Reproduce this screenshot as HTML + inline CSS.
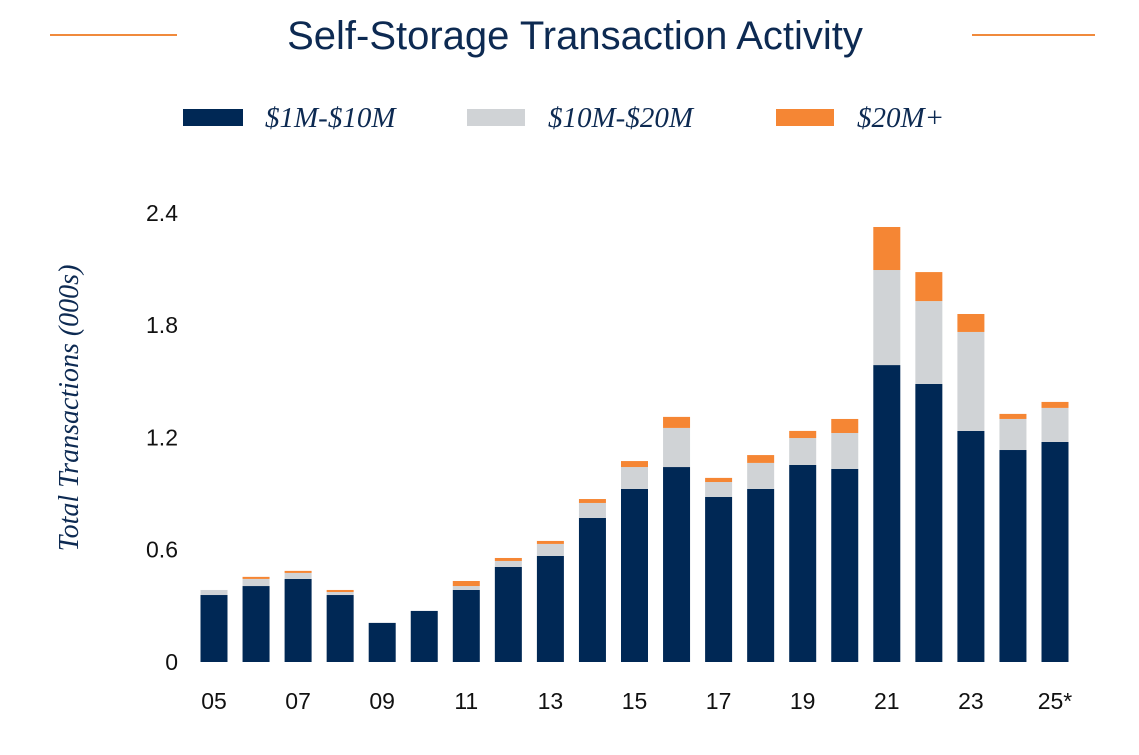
<!DOCTYPE html>
<html><head><meta charset="utf-8"><style>
body{margin:0;background:#fff;width:1139px;height:750px;overflow:hidden;font-family:"Liberation Sans",sans-serif;}
</style></head><body>
<svg width="1139" height="750">
<line x1="50" y1="35" x2="177" y2="35" stroke="#f08a3c" stroke-width="2"/>
<line x1="972" y1="35" x2="1095" y2="35" stroke="#f08a3c" stroke-width="2"/>
<text x="575" y="49" text-anchor="middle" font-size="40" fill="#0d2a52" font-family="Liberation Sans, sans-serif">Self-Storage Transaction Activity</text>
<g font-family="Liberation Serif, serif" font-style="italic" font-size="29" fill="#0d2a52">
<rect x="183" y="109" width="60" height="17" fill="#002855"/>
<text x="265" y="127">$1M-$10M</text>
<rect x="467" y="109" width="58" height="17" fill="#d0d3d6"/>
<text x="548" y="127">$10M-$20M</text>
<rect x="776" y="109" width="58" height="17" fill="#f58634"/>
<text x="857" y="127">$20M+</text>
</g>
<text transform="translate(78,408) rotate(-90)" text-anchor="middle" font-family="Liberation Serif, serif" font-style="italic" font-size="28" fill="#0d2a52">Total Transactions (000s)</text>
<g id="plot"></g>
</svg>
<script>
const categories=["05","06","07","08","09","10","11","12","13","14","15","16","17","18","19","20","21","22","23","24","25*"];
const smallDeals=[0.358,0.406,0.444,0.358,0.209,0.273,0.385,0.508,0.567,0.770,0.925,1.042,0.882,0.925,1.053,1.032,1.587,1.486,1.235,1.133,1.176];
const midDeals=[0.027,0.038,0.032,0.016,0,0,0.021,0.032,0.064,0.080,0.117,0.209,0.080,0.139,0.144,0.192,0.508,0.443,0.529,0.166,0.182];
const largeDeals=[0,0.011,0.011,0.011,0,0,0.027,0.016,0.016,0.021,0.032,0.059,0.022,0.042,0.038,0.075,0.230,0.155,0.096,0.027,0.032];
const yTicks=[0,0.6,1.2,1.8,2.4];
const yTickLabels=["0","0.6","1.2","1.8","2.4"];
const xLabelShown=[true,false,true,false,true,false,true,false,true,false,true,false,true,false,true,false,true,false,true,false,true];
const NS="http://www.w3.org/2000/svg";
const g=document.getElementById('plot');
const y0=662,pxPerUnit=187.1;
const yScale=v=>y0-v*pxPerUnit;
const xScale=i=>214+i*42.05;
const bw=27;
function mk(tag,attrs){const e=document.createElementNS(NS,tag);for(const k in attrs)e.setAttribute(k,attrs[k]);g.appendChild(e);return e;}
yTicks.forEach((t,i)=>{
  const e=mk('text',{x:178,y:yScale(t)+8,'text-anchor':'end','font-size':23,fill:'#111'});
  e.textContent=yTickLabels[i];
  
  
});
categories.forEach((c,i)=>{
  const x=xScale(i)-bw/2;
  const segs=[[smallDeals[i],'#002855','bar-small-'+c],[midDeals[i],'#d0d3d6','bar-mid-'+c],[largeDeals[i],'#f58634','bar-large-'+c]];
  let base=0;
  segs.forEach(s=>{
    if(s[0]>0){
      const r=mk('rect',{x:x,y:yScale(base+s[0]),width:bw,height:s[0]*pxPerUnit,fill:s[1]});
      
      
    }
    base+=s[0];
  });
  if(xLabelShown[i]){
    const t=mk('text',{x:xScale(i),y:709,'text-anchor':'middle','font-size':23,fill:'#111'});
    t.textContent=c;
    
    
  }
});
</script>
</body></html>
